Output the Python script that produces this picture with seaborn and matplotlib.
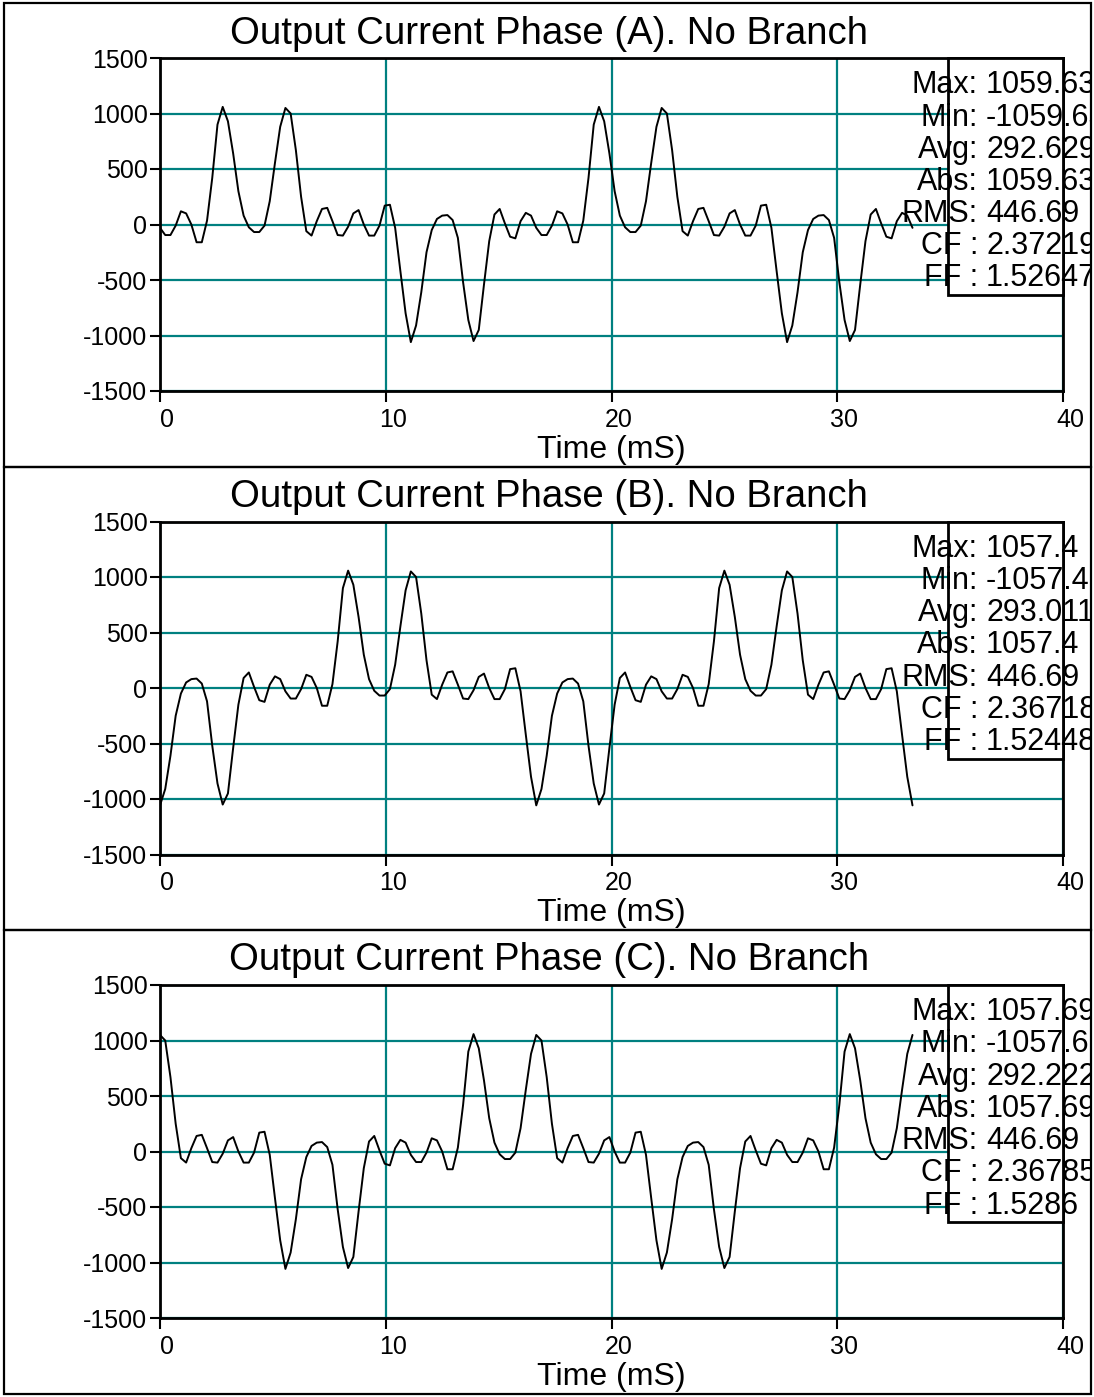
import numpy as np
import pandas as pd
import matplotlib
matplotlib.use("Agg")
import matplotlib.pyplot as plt
import seaborn as sns
from matplotlib.patches import Rectangle
from matplotlib.transforms import Bbox, TransformedBbox, ScaledTranslation

# One 60 Hz cycle of each output phase current (A), 72 samples per cycle
phase_a_cycle = [
    -30, -95, -95, -10, 119, 100, 0, -160, -160, 35, 420, 900,
    1059.63, 930, 640, 300, 80, -25, -68, -68, -10, 210, 555, 880,
    1050, 1000, 670, 250, -60, -100, 30, 140, 150, 30, -95, -100,
    -20, 100, 130, 0, -100, -100, -10, 170, 178, -30, -420, -800,
    -1059.63, -910, -610, -250, -50, 50, 80, 85, 40, -120, -520, -860,
    -1050, -950, -540, -150, 90, 140, 10, -110, -125, 30, 105, 80,
]
phase_b_cycle = [
    -1057.4, -910, -610, -250, -50, 50, 80, 85, 40, -120, -520, -860,
    -1050, -950, -540, -150, 90, 140, 10, -110, -125, 30, 105, 80,
    -30, -95, -95, -10, 119, 100, 0, -160, -160, 35, 420, 900,
    1057.4, 930, 640, 300, 80, -25, -68, -68, -10, 210, 555, 880,
    1050, 1000, 670, 250, -60, -100, 30, 140, 150, 30, -95, -100,
    -20, 100, 130, 0, -100, -100, -10, 170, 178, -30, -420, -800,
]
phase_c_cycle = [
    1050, 1000, 670, 250, -60, -100, 30, 140, 150, 30, -95, -100,
    -20, 100, 130, 0, -100, -100, -10, 170, 178, -30, -420, -800,
    -1057.69, -910, -610, -250, -50, 50, 80, 85, 40, -120, -520, -860,
    -1050, -950, -540, -150, 90, 140, 10, -110, -125, 30, 105, 80,
    -30, -95, -95, -10, 119, 100, 0, -160, -160, 35, 420, 900,
    1057.69, 930, 640, 300, 80, -25, -68, -68, -10, 210, 555, 880,
]

period_ms = 1000 / 60
samples_per_cycle = 72
n_cycles = 2

titles = [
    "Output Current Phase (A). No Branch",
    "Output Current Phase (B). No Branch",
    "Output Current Phase (C). No Branch",
]
avg_text = ["292.629", "293.011", "292.222"]
rms_text = ["446.69", "446.69", "446.69"]
cf_text = ["2.37219", "2.36718", "2.36785"]
ff_text = ["1.52647", "1.52448", "1.5286"]
stat_labels = ["Max:", "Min:", "Avg:", "Abs:", "RMS:", "CF :", "FF :"]

x_ticks = [0, 10, 20, 30, 40]
y_ticks = [-1500, -1000, -500, 0, 500, 1000, 1500]
x_label = "Time (mS)"

GRID = "#008080"

sns.set_theme(style="white")
plt.rcParams["font.family"] = ["Liberation Sans", "DejaVu Sans"]

W, H = 1094, 1397
fig = plt.figure(figsize=(W / 100, H / 100), dpi=100)
fig.patch.set_facecolor("white")


def fx(px):
    return px / W


def fy(py):
    return 1 - py / H


panel_h = 463.5
ax_left, ax_right = 160, 1063
cycles = [phase_a_cycle, phase_b_cycle, phase_c_cycle]

for i, cycle in enumerate(cycles):
    ptop = 3 + i * panel_h
    a_top, a_bot = ptop + 55, ptop + 388

    values = list(cycle) * n_cycles + [cycle[0]]
    t = np.arange(len(values)) * period_ms / samples_per_cycle
    df = pd.DataFrame({"t": t, "current": values})

    ax = fig.add_axes([fx(ax_left), fy(a_bot), fx(ax_right - ax_left),
                       (a_bot - a_top) / H])
    ax.set_facecolor("white")
    sns.lineplot(data=df, x="t", y="current", ax=ax, color="black",
                 lw=1.4, estimator=None, sort=False, zorder=3)
    ax.set_xlim(0, 40)
    ax.set_ylim(-1500, 1500)
    ax.set_xticks(x_ticks)
    ax.set_yticks(y_ticks)
    ax.set_xticklabels([str(v) for v in x_ticks])
    ax.set_yticklabels([str(v) for v in y_ticks])
    ax.set_xlabel("")
    ax.set_ylabel("")
    ax.grid(True, color=GRID, lw=1.6)
    ax.set_axisbelow(True)
    for s in ax.spines.values():
        s.set_color("black")
        s.set_linewidth(2.0)
    ax.tick_params(axis="y", which="both", left=True, length=7, width=1.5,
                   color="black", labelsize=18, pad=2, labelcolor="black")
    ax.tick_params(axis="x", which="both", bottom=True, length=8, width=1.5,
                   color="black", labelsize=18, pad=4, labelcolor="black")
    shift = ScaledTranslation(7 / 100, 0, fig.dpi_scale_trans)
    for lbl in ax.get_xticklabels():
        lbl.set_transform(lbl.get_transform() + shift)

    # statistics box
    box_l = (948 - ax_left) / (ax_right - ax_left)
    box_b = 1 - 237 / (a_bot - a_top)
    ax.add_patch(Rectangle((box_l, box_b), 1 - box_l, 1 - box_b,
                           transform=ax.transAxes, facecolor="white",
                           edgecolor="black", lw=2.0, zorder=4,
                           clip_on=False))

    clip = TransformedBbox(
        Bbox.from_extents(fx(5), fy(ptop + panel_h - 2), fx(1090.5), fy(ptop + 2)),
        fig.transFigure)

    vmax, vmin = max(values), min(values)
    vabs = max(abs(vmax), abs(vmin))
    stat_values = [f"{vmax:g}", f"{vmin:g}", avg_text[i], f"{vabs:g}",
                   rms_text[i], cf_text[i], ff_text[i]]
    for j, (lab, val) in enumerate(zip(stat_labels, stat_values)):
        base = a_top + 35.3 + j * 32.2
        t1 = fig.text(fx(978), fy(base), lab, ha="right", va="baseline",
                      fontsize=22, color="black", zorder=6)
        t2 = fig.text(fx(986), fy(base), val, ha="left", va="baseline",
                      fontsize=22, color="black", zorder=6)
        for tt in (t1, t2):
            tt.set_clip_box(clip)
            tt.set_clip_on(True)

    fig.text(fx(549), fy(ptop + 40.5), titles[i], ha="center", va="baseline",
             fontsize=27.6, color="black")
    fig.text(fx((ax_left + ax_right) / 2), fy(ptop + 455), x_label,
             ha="center", va="baseline", fontsize=23, color="black")

    fig.add_artist(Rectangle((fx(3.5), fy(ptop + panel_h)), fx(1091 - 3.5),
                             panel_h / H, transform=fig.transFigure,
                             fill=False, edgecolor="black", lw=1.6))

fig.savefig("out.png", dpi=100, facecolor="white")
